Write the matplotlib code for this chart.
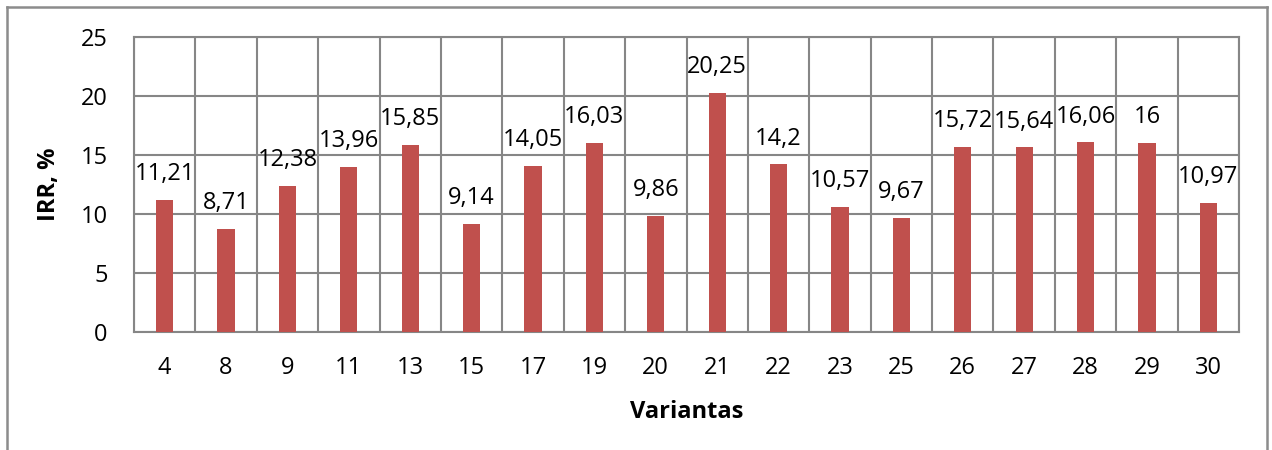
import matplotlib
matplotlib.use("Agg")
import matplotlib.pyplot as plt
from matplotlib.lines import Line2D
from matplotlib.ticker import MultipleLocator, FixedLocator

# Variant numbers and their internal rate of return (%)
variants = ["4", "8", "9", "11", "13", "15", "17", "19", "20", "21",
            "22", "23", "25", "26", "27", "28", "29", "30"]
irr = [11.21, 8.71, 12.38, 13.96, 15.85, 9.14, 14.05, 16.03, 9.86, 20.25,
       14.2, 10.57, 9.67, 15.72, 15.64, 16.06, 16, 10.97]

y_max = 25
y_step = 5

plt.rcParams["font.family"] = ["Open Sans", "DejaVu Sans"]

bar_color = "#C0504D"
grid_color = "#868686"
font_size = 17

fig = plt.figure(figsize=(12.72, 4.5), dpi=100)
ax = fig.add_axes([134 / 1272, 118 / 450, (1239 - 134) / 1272, (332 - 37) / 450])

x = list(range(len(variants)))
ax.bar(x, irr, width=0.28, color=bar_color, zorder=3)

for xi, v in zip(x, irr):
    ax.annotate(f"{v:g}".replace(".", ","), (xi, v), xytext=(0, 10),
                textcoords="offset points", ha="center", va="bottom",
                fontsize=font_size, color="black", zorder=4)

ax.set_xlim(-0.5, len(variants) - 0.5)
ax.set_ylim(0, y_max)
ax.set_xticks(x)
ax.set_xticklabels(variants)
ax.xaxis.set_minor_locator(FixedLocator([i + 0.5 for i in range(-1, len(variants))]))
ax.yaxis.set_major_locator(MultipleLocator(y_step))

ax.grid(True, which="major", axis="y", color=grid_color, linewidth=1.5, zorder=0)
ax.grid(True, which="minor", axis="x", color=grid_color, linewidth=1.5, zorder=0)
ax.grid(False, which="major", axis="x")

for side in ax.spines.values():
    side.set_color(grid_color)
    side.set_linewidth(1.5)

ax.tick_params(axis="both", which="both", length=0, labelsize=font_size)
ax.tick_params(axis="x", pad=17)
ax.tick_params(axis="y", pad=19)

ax.set_xlabel("Variantas", fontsize=font_size, fontweight="bold", labelpad=15)
ax.set_ylabel("IRR, %", fontsize=font_size, fontweight="bold", labelpad=14)

# Chart-area frame (left, top and right edges)
fx0, fx1 = 7 / 1272, 1267 / 1272
fy1 = 1 - 7 / 450
for xs, ys in [([fx0, fx0], [-0.1, fy1]), ([fx0, fx1], [fy1, fy1]), ([fx1, fx1], [fy1, -0.1])]:
    fig.add_artist(Line2D(xs, ys, transform=fig.transFigure, color="#8C8C8C", linewidth=1.8))

fig.savefig("out.png", dpi=100)
